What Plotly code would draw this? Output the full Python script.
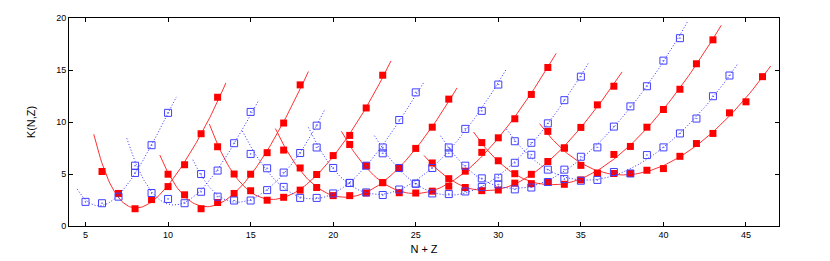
import numpy as np
import plotly.graph_objects as go

# K(N,Z) 对 N+Z：红色实心方块 + 实线（偶数链），蓝色空心方块 + 点线（奇数链）
red_a_1 = [6, 7, 8, 9, 10, 11, 12, 13]
red_k_1 = [5.24, 3.13, 1.66, 2.54, 3.79, 5.89, 8.87, 12.38]
red_a_2 = [10, 11, 12, 13, 14, 15, 16, 17, 18]
red_k_2 = [4.98, 3.00, 1.66, 2.26, 3.13, 4.98, 7.05, 9.90, 13.57]
red_a_3 = [13, 14, 15, 16, 17, 18, 19, 20, 21, 22, 23]
red_k_3 = [7.62, 5.00, 3.39, 2.48, 2.76, 3.45, 4.95, 6.77, 8.71, 11.35, 14.50]
red_a_4 = [17, 18, 19, 20, 21, 22, 23, 24, 25, 26, 27]
red_k_4 = [7.30, 5.58, 3.70, 2.92, 2.92, 3.17, 4.17, 5.58, 7.46, 9.50, 12.20]
red_a_5 = [21, 22, 23, 24, 25, 26, 27, 28, 29, 30, 31, 32, 33]
red_k_5 = [7.84, 5.80, 4.17, 3.20, 3.17, 3.35, 3.83, 5.27, 7.08, 8.48, 10.31, 12.65, 15.24]
red_a_6 = [26, 27, 28, 29, 30, 31, 32, 33, 34, 35, 36, 37]
red_k_6 = [6.06, 4.55, 3.70, 3.40, 3.46, 4.12, 4.97, 6.20, 7.50, 9.48, 11.65, 13.44]
red_a_7 = [29, 30, 31, 32, 33, 34, 35, 36, 37, 38, 39, 40, 41, 42, 43]
red_k_7 = [8.02, 6.27, 5.03, 4.07, 4.18, 4.01, 4.43, 5.07, 6.88, 7.65, 9.50, 11.20, 13.15, 15.60, 17.90]
red_a_8 = [33, 34, 35, 36, 37, 38, 39, 40, 41, 42, 43, 44, 45, 46]
red_k_8 = [9.10, 7.50, 5.83, 5.07, 5.05, 5.05, 5.36, 5.52, 6.70, 7.93, 8.90, 10.88, 11.94, 14.36]

# 拟合曲线两端（比首末点各多半个单位）处读出的 K 值
red_fit_k0 = [8.87, 6.83, 9.81, 9.40, 9.09, 6.77, 9.03, 9.81]
red_fit_k1 = [13.73, 14.83, 15.86, 13.26, 16.60, 14.83, 19.30, 15.40]

blue_a_1 = [5, 6, 7, 8, 9, 10]
blue_k_1 = [2.32, 2.19, 2.82, 5.10, 7.77, 10.88]
blue_a_2 = [8, 9, 10, 11, 12, 13, 14, 15]
blue_k_2 = [5.80, 3.17, 2.60, 2.19, 3.29, 5.33, 7.96, 10.97]
blue_a_3 = [12, 13, 14, 15, 16, 17, 18, 19]
blue_k_3 = [5.00, 2.82, 2.45, 2.45, 3.45, 5.14, 7.02, 9.65]
blue_a_4 = [15, 16, 17, 18, 19, 20, 21, 22, 23, 24, 25]
blue_k_4 = [6.93, 5.55, 3.76, 2.70, 2.70, 3.13, 4.14, 5.80, 7.55, 10.19, 12.85]
blue_a_5 = [19, 20, 21, 22, 23, 24, 25, 26, 27, 28, 29, 30]
blue_k_5 = [7.55, 5.58, 4.14, 3.23, 2.98, 3.51, 4.07, 5.58, 7.55, 9.34, 11.07, 13.60]
blue_a_6 = [23, 24, 25, 26, 27, 28, 29, 30, 31, 32, 33, 34, 35]
blue_k_6 = [6.99, 5.58, 4.07, 3.13, 3.07, 3.32, 3.76, 4.64, 6.08, 8.00, 9.87, 12.10, 14.36]
blue_a_7 = [27, 28, 29, 30, 31, 32, 33, 34, 35, 36, 37, 38, 39, 40, 41]
blue_k_7 = [6.99, 5.80, 4.58, 4.00, 3.52, 3.70, 4.23, 5.42, 6.66, 7.56, 9.56, 11.50, 13.44, 15.90, 18.06]
blue_a_8 = [31, 32, 33, 34, 35, 36, 37, 38, 39, 40, 41, 42, 43, 44]
blue_k_8 = [8.15, 6.85, 5.42, 4.51, 4.35, 4.43, 5.19, 5.05, 6.82, 7.56, 8.90, 10.33, 12.48, 14.47]

blue_fit_k0 = [3.54, 8.46, 6.36, 9.18, 9.50, 8.71, 8.71, 9.30]
blue_fit_k1 = [12.41, 12.10, 11.22, 13.82, 15.14, 15.77, 19.78, 15.60]

red_a = [red_a_1, red_a_2, red_a_3, red_a_4, red_a_5, red_a_6, red_a_7, red_a_8]
red_k = [red_k_1, red_k_2, red_k_3, red_k_4, red_k_5, red_k_6, red_k_7, red_k_8]
blue_a = [blue_a_1, blue_a_2, blue_a_3, blue_a_4, blue_a_5, blue_a_6, blue_a_7, blue_a_8]
blue_k = [blue_k_1, blue_k_2, blue_k_3, blue_k_4, blue_k_5, blue_k_6, blue_k_7, blue_k_8]


def fit_curve(a, k, k0, k1):
    """多项式拟合一条链，两端端点值加权约束"""
    xa = [a[0] - 0.5] + list(a) + [a[-1] + 0.5]
    ya = [k0] + list(k) + [k1]
    w = [3.0] + [1.0] * len(a) + [3.0]
    coef = np.polyfit(xa, ya, 4, w=w)
    xs = np.linspace(xa[0], xa[-1], 100)
    return xs, np.polyval(coef, xs)


fig = go.Figure()

# 红色：拟合实线 + 实心方块
for a, k, k0, k1 in zip(red_a, red_k, red_fit_k0, red_fit_k1):
    xs, ys = fit_curve(a, k, k0, k1)
    fig.add_trace(go.Scatter(x=xs, y=ys, mode="lines",
                             line={"color": "#ff3030", "width": 1}))
    fig.add_trace(go.Scatter(x=a, y=k, mode="markers",
                             marker={"symbol": "square", "size": 7, "color": "#ff0000",
                                     "line": {"width": 0}}))

# 蓝色：拟合点线 + 空心方块
for a, k, k0, k1 in zip(blue_a, blue_k, blue_fit_k0, blue_fit_k1):
    xs, ys = fit_curve(a, k, k0, k1)
    fig.add_trace(go.Scatter(x=xs, y=ys, mode="lines",
                             line={"color": "#3030ff", "width": 1, "dash": "1px,2px"}))
    fig.add_trace(go.Scatter(x=a, y=k, mode="markers",
                             marker={"symbol": "square-open-dot", "size": 7, "color": "#4040ff",
                                     "line": {"width": 1, "color": "#4040ff"}}))

axis_style = dict(
    showline=True, linecolor="black", linewidth=1, mirror="ticks",
    ticks="inside", ticklen=4, tickcolor="black",
    showgrid=False, zeroline=False,
    tickfont={"size": 9, "color": "black"},
)

# 页面 body 自带 8px 边距，这里的边距已扣除
fig.update_layout(
    width=830, height=261,
    margin={"l": 61, "r": 59, "t": 5, "b": 43},
    paper_bgcolor="white", plot_bgcolor="white",
    showlegend=False,
    font={"family": "Liberation Sans, Arial, sans-serif", "color": "black"},
    xaxis=dict(axis_style, range=[4, 47], tickvals=[5, 10, 15, 20, 25, 30, 35, 40, 45],
               title={"text": "N + Z", "font": {"size": 11}, "standoff": 6}),
    yaxis=dict(axis_style, range=[0, 20], tickvals=[0, 5, 10, 15, 20],
               title={"text": "K(N,Z)", "font": {"size": 11}, "standoff": 18}),
)

fig.write_html("out.html")
